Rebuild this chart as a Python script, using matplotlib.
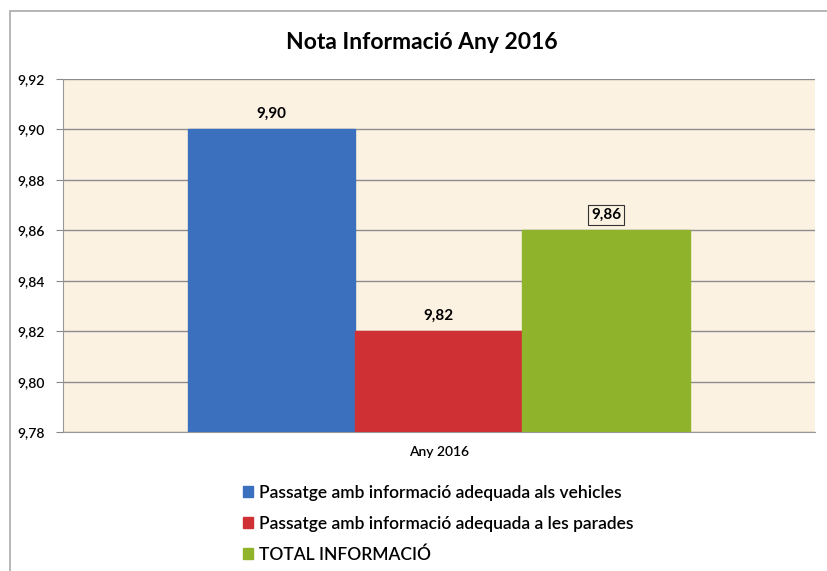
import matplotlib.pyplot as plt
from matplotlib.patches import Rectangle

series = ["Passatge amb informació adequada als vehicles",
          "Passatge amb informació adequada a les parades",
          "TOTAL INFORMACIÓ"]
values = [9.90, 9.82, 9.86]
colors = ["#3b70bf", "#cf3034", "#8fb42c"]
category = "Any 2016"
yticks = [9.78, 9.80, 9.82, 9.84, 9.86, 9.88, 9.90, 9.92]

plt.rcParams["font.family"] = ["Lato", "DejaVu Sans"]

fig = plt.figure(figsize=(8.27, 5.71), dpi=100)
fig.patch.set_facecolor("white")
fig.add_artist(Rectangle((0.012, -0.01), 1.0, 0.99, transform=fig.transFigure,
                         fill=False, edgecolor="#a9a9a9", lw=1.2))

ax = fig.add_axes([0.076, 0.243, 0.909, 0.619])
ax.set_facecolor("#fcf2e2")

w = 0.2225
offsets = [-w, 0, w]
for off, v, c, name in zip(offsets, values, colors, series):
    ax.bar(off, v - yticks[0], bottom=yticks[0], width=w, color=c,
           edgecolor=c, label=name, zorder=3)

for i, (off, v) in enumerate(zip(offsets, values)):
    label = f"{v:.2f}".replace(".", ",")
    box = dict(boxstyle="square,pad=0.2", fc="#fcf2e2", ec="#333333", lw=0.8) if i == 2 else None
    ax.annotate(label, (off, v), xytext=(0, 6), textcoords="offset points",
                ha="center", va="bottom", fontsize=11, fontweight="bold", bbox=box)

ax.set_xlim(-0.5, 0.5)
ax.set_ylim(yticks[0], yticks[-1])
ax.set_yticks(yticks)
ax.set_yticklabels([f"{t:.2f}".replace(".", ",") for t in yticks], fontsize=10,
                   fontweight="semibold")
ax.set_xticks([0])
ax.set_xticklabels([category], fontsize=10, fontweight="semibold")
ax.tick_params(axis="x", length=0, pad=10)
ax.tick_params(axis="y", length=5, color="#888888", pad=8)
ax.grid(axis="y", color="#8c8c8c", lw=1.0, zorder=1)
for s in ["top", "right"]:
    ax.spines[s].set_visible(False)
for s in ["left", "bottom"]:
    ax.spines[s].set_color("#999999")

fig.text(0.510, 0.925, "Nota Informació Any 2016", ha="center", va="center",
         fontsize=16.5, fontweight="bold")

fig.legend(loc="upper left", bbox_to_anchor=(0.275, 0.178), frameon=False,
           prop={"size": 12.5, "weight": "semibold"}, handlelength=0.6,
           handleheight=0.6, handletextpad=0.3, labelspacing=0.85)

fig.savefig("out.png", dpi=100)
